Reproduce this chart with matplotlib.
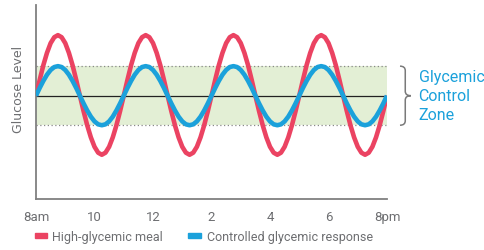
#!/usr/bin/env python3
# Glucose level over the day: high-glycemic meal vs controlled response

import matplotlib
matplotlib.use("Agg")
import matplotlib.pyplot as plt
import matplotlib.transforms as mtransforms
from matplotlib.path import Path
from matplotlib.patches import PathPatch, Rectangle

plt.rcParams["font.family"] = ["Roboto", "DejaVu Sans"]

# hours since 8am, sampled every 1/8 hour
hours = [i / 8 for i in range(97)]

# (midline = 0, control zone = +/-1)
high_gi = [
    0, 0.53, 1.03, 1.45, 1.78, 1.98, 2.05, 1.98, 1.78, 1.45, 1.03, 0.53,
    0, -0.52, -1.0, -1.41, -1.73, -1.93, -2.0, -1.93, -1.73, -1.41, -1.0, -0.52,
    0, 0.53, 1.03, 1.45, 1.78, 1.98, 2.05, 1.98, 1.78, 1.45, 1.03, 0.53,
    0, -0.52, -1.0, -1.41, -1.73, -1.93, -2.0, -1.93, -1.73, -1.41, -1.0, -0.52,
    0, 0.53, 1.03, 1.45, 1.78, 1.98, 2.05, 1.98, 1.78, 1.45, 1.03, 0.53,
    0, -0.52, -1.0, -1.41, -1.73, -1.93, -2.0, -1.93, -1.73, -1.41, -1.0, -0.52,
    0, 0.53, 1.03, 1.45, 1.78, 1.98, 2.05, 1.98, 1.78, 1.45, 1.03, 0.53,
    0, -0.52, -1.0, -1.41, -1.73, -1.93, -2.0, -1.93, -1.73, -1.41, -1.0, -0.52,
    0,
]
controlled = [
    0, 0.26, 0.5, 0.71, 0.87, 0.97, 1.0, 0.97, 0.87, 0.71, 0.5, 0.26,
    0, -0.26, -0.5, -0.71, -0.87, -0.97, -1.0, -0.97, -0.87, -0.71, -0.5, -0.26,
    0, 0.26, 0.5, 0.71, 0.87, 0.97, 1.0, 0.97, 0.87, 0.71, 0.5, 0.26,
    0, -0.26, -0.5, -0.71, -0.87, -0.97, -1.0, -0.97, -0.87, -0.71, -0.5, -0.26,
    0, 0.26, 0.5, 0.71, 0.87, 0.97, 1.0, 0.97, 0.87, 0.71, 0.5, 0.26,
    0, -0.26, -0.5, -0.71, -0.87, -0.97, -1.0, -0.97, -0.87, -0.71, -0.5, -0.26,
    0, 0.26, 0.5, 0.71, 0.87, 0.97, 1.0, 0.97, 0.87, 0.71, 0.5, 0.26,
    0, -0.26, -0.5, -0.71, -0.87, -0.97, -1.0, -0.97, -0.87, -0.71, -0.5, -0.26,
    0,
]
zone_low, zone_high = -1.0, 1.0

tick_hours = [0, 2, 4, 6, 8, 10, 12]
tick_labels = ["8am", "10", "12", "2", "4", "6", "8pm"]

RED = "#eb4362"
BLUE = "#1ba1db"
GREEN = "#e3efd5"
GRAY = "#6d6e71"

fig = plt.figure(figsize=(4.84, 2.51), dpi=100)
ax = fig.add_axes([0.0744, 0.203, 0.7252, 0.773])

ax.axhspan(zone_low, zone_high, color=GREEN, lw=0, zorder=0)
ax.axhline(zone_high, color="#888888", lw=0.9, ls=(0, (1, 2)), zorder=1)
ax.axhline(zone_low, color="#888888", lw=0.9, ls=(0, (1, 2)), zorder=1)
ax.axhline(0, color="#222222", lw=0.9, zorder=2)

ax.plot(hours, high_gi, color=RED, lw=3.3, solid_capstyle="butt", zorder=3)
ax.plot(hours, controlled, color=BLUE, lw=3.3, solid_capstyle="butt", zorder=4)

ax.set_xlim(0, 12)
ax.set_ylim(-3.5, 3.07)
ax.set_xticks(tick_hours)
ax.set_xticklabels(tick_labels)
ax.set_yticks([])
ax.tick_params(axis="x", length=0, pad=8, labelsize=9.5, labelcolor=GRAY)
for s in ["top", "right"]:
    ax.spines[s].set_visible(False)
for s in ["left", "bottom"]:
    ax.spines[s].set_color("#808080")
    ax.spines[s].set_linewidth(1.3)

fig.text(0.039, 0.645, "Glucose Level", rotation=90, ha="center", va="center",
         fontsize=9, color=GRAY, family=["DejaVu Sans"])

# brace marking the control zone
blend = mtransforms.blended_transform_factory(ax.transAxes, ax.transData)
x0, x1, tip = 1.037, 1.052, 1.068
verts = [
    (x0, zone_high), (x1, zone_high), (x1, 0.85),
    (x1, 0.15),
    (x1, 0.0), (tip, 0.0),
    (x1, 0.0), (x1, -0.15),
    (x1, -0.85),
    (x1, zone_low), (x0, zone_low),
]
codes = [Path.MOVETO, Path.CURVE3, Path.CURVE3, Path.LINETO,
         Path.CURVE3, Path.CURVE3, Path.CURVE3, Path.CURVE3,
         Path.LINETO, Path.CURVE3, Path.CURVE3]
ax.add_patch(PathPatch(Path(verts, codes), transform=blend, fill=False,
                       edgecolor="#7a7a7a", lw=1.1, clip_on=False))
ax.text(1.09, 0.0, "Glycemic\nControl\nZone", transform=blend, ha="left",
        va="center", fontsize=11.5, color=BLUE, linespacing=1.35)

# legend
fig.add_artist(Rectangle((0.073, 0.046), 0.024, 0.02, color=RED,
                         transform=fig.transFigure))
fig.text(0.107, 0.055, "High-glycemic meal", fontsize=9, color=GRAY, va="center")
fig.add_artist(Rectangle((0.389, 0.046), 0.026, 0.02, color=BLUE,
                         transform=fig.transFigure))
fig.text(0.427, 0.055, "Controlled glycemic response", fontsize=9, color=GRAY,
         va="center")

fig.savefig("out.png", dpi=100)
